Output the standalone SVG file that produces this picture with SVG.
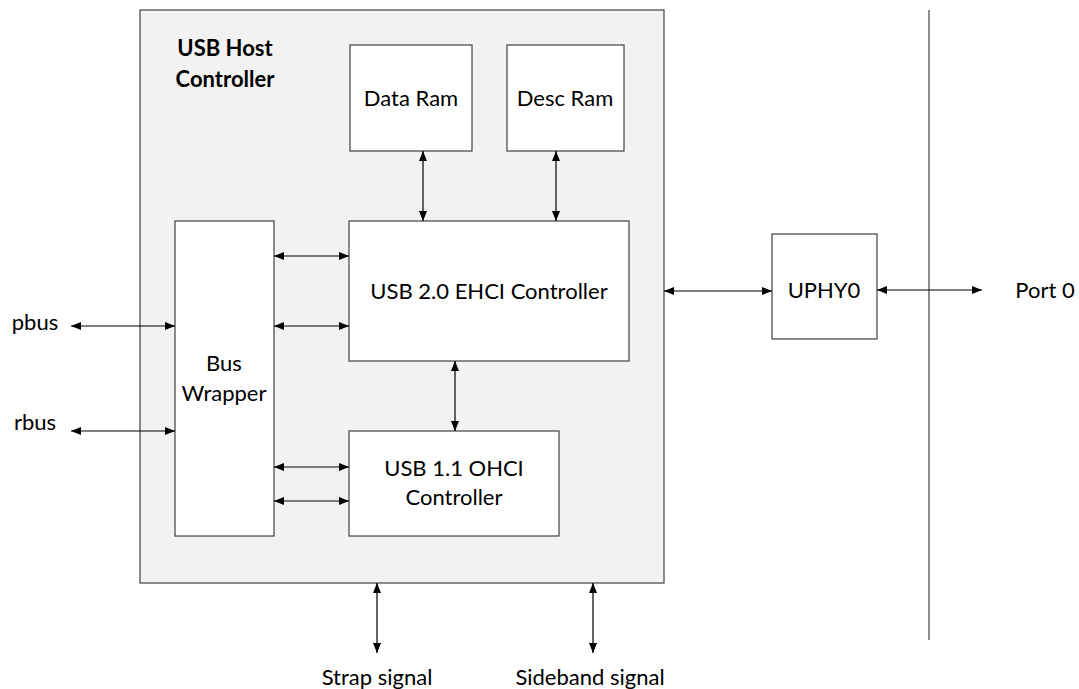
<svg xmlns="http://www.w3.org/2000/svg" width="1079" height="689" viewBox="0 0 1079 689">
<style>
.box{fill:#ffffff;stroke:#404040;stroke-width:1.2}
.outer{fill:#f2f2f2;stroke:#404040;stroke-width:1.2}
.t{font-family:Lato,"Open Sans",sans-serif;font-size:22px;fill:#000;text-anchor:middle}
.b{font-weight:bold;font-size:22px}
.c{stroke:#000;stroke-width:1.2;fill:none;marker-start:url(#a);marker-end:url(#a)}
</style>
<defs>
<marker id="a" viewBox="0 0 10 8" refX="10" refY="4" markerWidth="10" markerHeight="8" markerUnits="userSpaceOnUse" orient="auto-start-reverse">
<path d="M0,0 L10,4 L0,8 Z" fill="#000"/>
</marker>
</defs>
<g id="usb-host-controller">
<rect class="outer" x="140" y="10" width="524" height="573"/>
<text class="t b" x="225" y="56">USB Host</text>
<text class="t b" x="225" y="87">Controller</text>
</g>
<g id="data-ram">
<rect class="box" x="350" y="45" width="122" height="106"/>
<text class="t" x="411" y="106">Data Ram</text>
</g>
<g id="desc-ram">
<rect class="box" x="507" y="45" width="117" height="106"/>
<text class="t" x="565" y="106">Desc Ram</text>
</g>
<g id="bus-wrapper">
<rect class="box" x="175" y="221" width="99" height="315"/>
<text class="t" x="224" y="371">Bus</text>
<text class="t" x="224" y="401">Wrapper</text>
</g>
<g id="ehci">
<rect class="box" x="349" y="221" width="280" height="140"/>
<text class="t" x="489" y="299">USB 2.0 EHCI Controller</text>
</g>
<g id="ohci">
<rect class="box" x="349" y="431" width="210" height="105"/>
<text class="t" x="454" y="476">USB 1.1 OHCI</text>
<text class="t" x="454" y="505">Controller</text>
</g>
<g id="uphy0">
<rect class="box" x="772" y="234" width="105" height="105"/>
<text class="t" x="824" y="298">UPHY0</text>
</g>
<g id="labels">
<text class="t" x="35" y="330">pbus</text>
<text class="t" x="35" y="430">rbus</text>
<text class="t" x="1045" y="298">Port 0</text>
<text class="t" x="377" y="685">Strap signal</text>
<text class="t" x="590" y="685">Sideband signal</text>
</g>
<g id="connectors">
<line x1="929" y1="10" x2="929" y2="640" stroke="#404040" stroke-width="1.2"/>
<line class="c" x1="423" y1="151" x2="423" y2="221"/>
<line class="c" x1="556" y1="151" x2="556" y2="221"/>
<line class="c" x1="274" y1="256" x2="349" y2="256"/>
<line class="c" x1="274" y1="326" x2="349" y2="326"/>
<line class="c" x1="274" y1="467" x2="349" y2="467"/>
<line class="c" x1="274" y1="501" x2="349" y2="501"/>
<line class="c" x1="455" y1="361" x2="455" y2="431"/>
<line class="c" x1="71" y1="326" x2="175" y2="326"/>
<line class="c" x1="71" y1="431" x2="175" y2="431"/>
<line class="c" x1="664" y1="291" x2="772" y2="291"/>
<line class="c" x1="877" y1="290" x2="982" y2="290"/>
<line class="c" x1="377" y1="583" x2="377" y2="653"/>
<line class="c" x1="593" y1="583" x2="593" y2="653"/>
</g>
</svg>
